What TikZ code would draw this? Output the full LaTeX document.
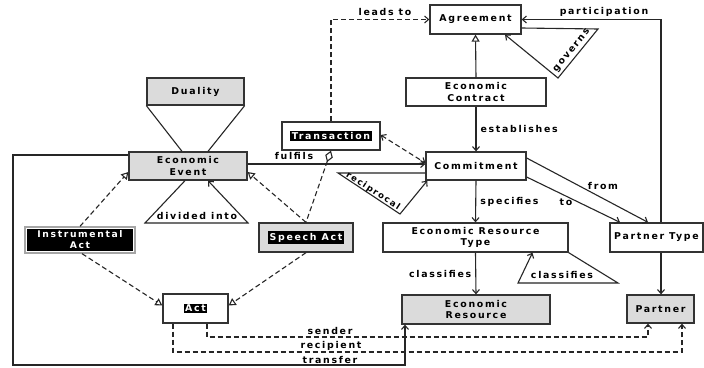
\documentclass[tikz,border=0pt]{standalone}
\usepackage{fontspec}
\setmainfont{DejaVu Sans}[LetterSpace=18]
\usetikzlibrary{arrows.meta,calc}
\newcommand\lblfont{\bfseries\fontsize{9.4}{11.5}\selectfont}
\tikzset{
  box/.style={draw=black!80, line width=1.3pt, inner sep=0pt, font=\lblfont, align=center},
  shadebox/.style={box, fill=gray!28},
  blk/.style={fill=black, text=white, font=\lblfont, inner sep=1.5pt, align=center},
  lab/.style={font=\lblfont, inner sep=1pt},
  ln/.style={draw=black!85, line width=1.1pt},
  arr/.style={ln, -{Straight Barb[length=4pt,width=7pt]}},
  dsh/.style={ln, dash pattern=on 5pt off 3pt},
  gen/.style={-{Triangle[open,length=7pt,width=8pt]}},
}
\begin{document}
\begin{tikzpicture}[x=1pt,y=-1pt]
\useasboundingbox[fill=white] (0,0) rectangle (704,367);
% nodes
\node[box, minimum width=91, minimum height=29] (ag) at (475.5,19.5) {Agreement};
\node[box, minimum width=140, minimum height=28] (ec) at (476,92) {Economic\\Contract};
\node[box, minimum width=100, minimum height=28] (cm) at (476,166) {Commitment};
\node[box, minimum width=185, minimum height=29] (ert) at (475.5,237.5) {Economic Resource\\Type};
\node[shadebox, minimum width=148, minimum height=29] (er) at (476,309.5) {Economic\\Resource};
\node[box, minimum width=93, minimum height=29] (pt) at (656.5,237.5) {Partner Type};
\node[shadebox, minimum width=67, minimum height=28] (pa) at (660.5,309) {Partner};
\node[shadebox, minimum width=97, minimum height=27] (du) at (195.5,91.5) {Duality};
\node[shadebox, minimum width=118, minimum height=28] (ee) at (188,166) {Economic\\Event};
\node[box, minimum width=98, minimum height=28] (tr) at (331,136) {};
\node[blk] (trl) at (tr) {Transaction};
\node[box, draw=gray!70, minimum width=110, minimum height=26] (ia) at (80,240) {};
\fill[black] ([xshift=3pt,yshift=-3pt]ia.north west) rectangle ([xshift=-3pt,yshift=3pt]ia.south east);
\node[lab, text=white, font=\bfseries\fontsize{9.2}{9.6}\selectfont] (ial1) at (80,234.5) {Instrumental};
\node[lab, text=white, font=\bfseries\fontsize{9.2}{9.6}\selectfont] (ial2) at (80,245.5) {Act};
\node[shadebox, minimum width=94, minimum height=29] (sa) at (306,237.5) {};
\node[blk] (sal) at (sa) {Speech Act};
\node[box, minimum width=65, minimum height=29] (act) at (195.5,308.5) {};
\node[blk] (actl) at (act) {Act};
% connectors
\draw[ln, gen] (ec.north) -- (ag.south);
\draw[arr] (ec.south) -- node[lab, right=3pt]{establishes} (cm.north);
\draw[arr] (cm.south) -- node[lab, right=3pt]{specifies} (ert.north);
\draw[arr] (ert.south) -- node[lab, left=3pt]{classifies} (er.north);
\draw[arr] (ert.south east) -- (618,283) -- (518,283) -- ([xshift=57]ert.south);
\node[lab] (lcl) at (562,275) {classifies};
\draw[arr] ([yshift=8]cm.east) -- ([xshift=-8.5]pt.north);
\draw[arr] ([yshift=-11]cm.east) -- ([xshift=-36.5]pt.north);
\node[lab] (lfrom) at (603,186) {from};
\node[lab] (lto) at (566,202) {to};
\draw[arr] ([xshift=4.5]pt.north) |- (ag.east);
\node[lab] (lpart) at (604,12) {participation};
\draw[arr] ([xshift=4.5]pt.south) -- ([xshift=0.5]pa.north);
\draw[arr] ([yshift=-8.5]ag.east) -- (598,29) -- (558,78) -- ([xshift=29.5]ag.south);
\node[lab, rotate=51] (lgov) at (572,51) {governs};
\draw[dsh, -{Straight Barb[length=4pt,width=7pt]}] (tr.north) |- (ag.west);
\node[lab] (llead) at (385,12) {leads to};
\draw[arr] ([yshift=2]ee.east) -- ([yshift=2]cm.west);
\node[lab] (lful) at (294,156) {fulfils};
\draw[arr] ([yshift=-7]cm.west) -- (338,173) -- (400,214) -- ([xshift=2]cm.south west);
\node[lab, rotate=-33, font=\bfseries\fontsize{8.6}{10}\selectfont] (lrec) at (373,191) {reciprocal};
\draw[dsh, {Straight Barb[length=4pt,width=7pt]}-{Straight Barb[length=4pt,width=7pt]}] ([yshift=1]tr.east) -- ([yshift=3]cm.west);
\draw[dsh, {Diamond[open,length=12pt,width=8pt]}-] (tr.south) -- (sa.north);
\draw[dsh, gen] (sa.north) -- ([yshift=-6]ee.east);
\draw[dsh, gen] (ia.north) -- ([yshift=-6]ee.west);
\draw[dsh, gen] ([xshift=2]ia.south) -- ([yshift=3]act.west);
\draw[dsh, gen] (sa.south) -- ([yshift=3]act.east);
\draw[dsh, -{Straight Barb[length=4pt,width=7pt]}] ([xshift=11.5]act.south) -- (207,337) -- (648,337) -- ([xshift=-12.5]pa.south);
\draw[dsh, -{Straight Barb[length=4pt,width=7pt]}] ([xshift=-22.5]act.south) -- (173,352) -- (682,352) -- ([xshift=21.5]pa.south);
\node[lab] (lsend) at (330,331) {sender};
\node[lab] (lrecp) at (331,346) {recipient};
\draw[arr] ([yshift=11]ee.west) -- (13,155) -- (13,365) -- (405,365) -- ([xshift=-71]er.south);
\node[lab] (ltr) at (330,360) {transfer};
\draw[ln] (du.south west) -- ([xshift=-6]ee.north);
\draw[ln] (du.south east) -- ([xshift=20]ee.north);
\draw[arr] ([xshift=-3]ee.south) -- (145,223) -- (248,223) -- ([xshift=20]ee.south);
\node[lab] (ldiv) at (197,216) {divided into};
\end{tikzpicture}
\end{document}
